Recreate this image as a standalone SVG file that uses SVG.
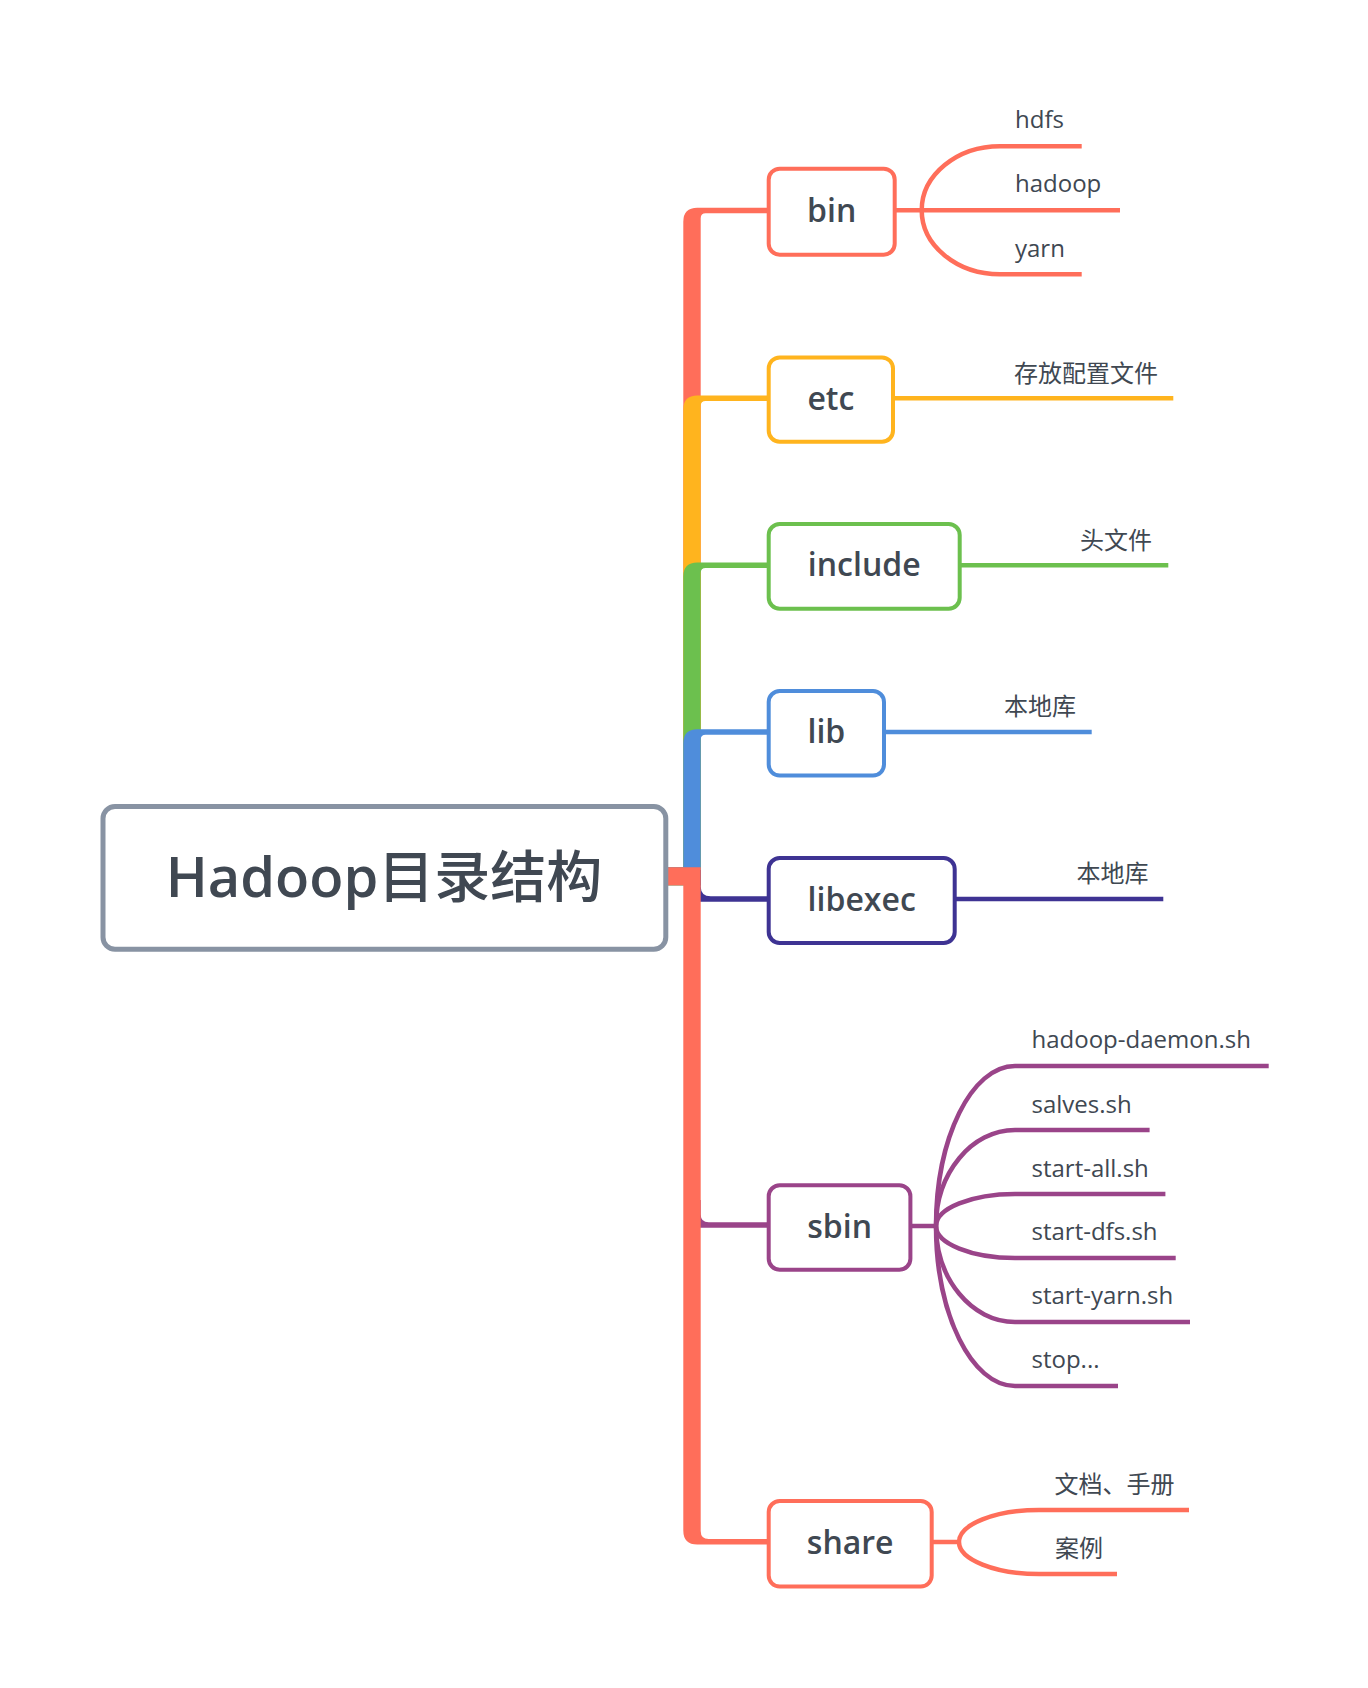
<svg xmlns="http://www.w3.org/2000/svg" width="1368" height="1688" viewBox="0 0 1368 1688">
<style>
.bg{fill:#ffffff}
.node rect{fill:#ffffff;stroke-width:4}
.nt{font-family:"Open Sans","Noto Sans","Noto Sans CJK SC",sans-serif;font-size:32px;font-weight:600;fill:#404852;text-anchor:middle}
.lt{font-family:"Open Sans","Noto Sans","Noto Sans CJK SC",sans-serif;font-size:24px;fill:#404852}
.sub{fill:none;stroke-width:4.5}
.red{fill:#ff6e5a}.sred{stroke:#ff6e5a}
.org{fill:#ffb41e}.sorg{stroke:#ffb41e}
.grn{fill:#6cc04e}.sgrn{stroke:#6cc04e}
.blu{fill:#4f8ddb}.sblu{stroke:#4f8ddb}
.nav{fill:#3e3393}.snav{stroke:#3e3393}
.pur{fill:#9a4489}.spur{stroke:#9a4489}
</style>
<rect class="bg" x="0" y="0" width="1368" height="1688"/>
<g id="connectors">
  <path class="red" d="M665 885.3 H700.7 V218.25 Q700.7 213.25 705.7 213.25 H769 V207.75 H697.3 Q683.3 207.75 683.3 221.75 V867.3 H665 Z"/>
  <path class="org" d="M665 885.3 H700.7 V406.05 Q700.7 401.05 705.7 401.05 H769 V395.55 H697.3 Q683.3 395.55 683.3 409.55 V867.3 H665 Z"/>
  <path class="grn" d="M665 885.3 H700.7 V573.05 Q700.7 568.05 705.7 568.05 H769 V562.55 H697.3 Q683.3 562.55 683.3 576.55 V867.3 H665 Z"/>
  <path class="blu" d="M665 885.3 H700.7 V739.75 Q700.7 734.75 705.7 734.75 H769 V729.25 H697.3 Q683.3 729.25 683.3 743.25 V867.3 H665 Z"/>
  <path class="nav" d="M690 870 H700.7 V886.25 Q700.7 896.25 710.7 896.25 H769 V901.75 H690 Z"/>
  <path class="pur" d="M690 1200 H700.7 V1214.25 Q700.7 1222.25 708.7 1222.25 H769 V1227.75 H690 Z"/>
  <path class="red" d="M665 867.3 H700.7 V1531.05 Q700.7 1539.05 708.7 1539.05 H769 V1544.55 H697.3 Q683.3 1544.55 683.3 1530.55 V885.3 H665 Z"/>

  <path class="sub sred" d="M895 210.2 H1120"/>
  <path class="sub sred" d="M921.7 210.2 C921.7 175.1 956.9 146.3 1000 146.3 H1081.7"/>
  <path class="sub sred" d="M921.7 210.2 C921.7 245.4 956.9 274.2 1000 274.2 H1081.7"/>

  <path class="sub sorg" d="M893 398.3 H1173.3"/>
  <path class="sub sgrn" d="M959.7 565.3 H1168.3"/>
  <path class="sub sblu" d="M884 732 H1091.7"/>
  <path class="sub snav" d="M954.7 899 H1163.3"/>

  <path class="sub spur" d="M910.4 1226 H936"/>
  <path class="sub spur" d="M936 1226 C936 1138 971.6 1066 1015 1066 H1268.7"/>
  <path class="sub spur" d="M936 1226 C936 1173.2 971.6 1130 1015 1130 H1149.6"/>
  <path class="sub spur" d="M936 1226 C936 1208.4 971.6 1194 1015 1194 H1165.4"/>
  <path class="sub spur" d="M936 1226 C936 1243.6 971.6 1258 1015 1258 H1175.7"/>
  <path class="sub spur" d="M936 1226 C936 1278.8 971.6 1322 1015 1322 H1190"/>
  <path class="sub spur" d="M936 1226 C936 1314 971.6 1386 1015 1386 H1118"/>

  <path class="sub sred" d="M931.7 1542 H959"/>
  <path class="sub sred" d="M959 1542 C959 1524.4 995 1510 1039 1510 H1189"/>
  <path class="sub sred" d="M959 1542 C959 1559.6 995 1574 1039 1574 H1117"/>
</g>

<g id="root">
  <rect x="103" y="806.5" width="562.8" height="142.7" rx="12" fill="#ffffff" stroke="#8893a3" stroke-width="5"/>
  <text x="384" y="897" font-family="'Open Sans','Noto Sans','Noto Sans CJK SC',sans-serif" font-size="56" fill="#404852" text-anchor="middle"><tspan font-weight="600">Hadoop</tspan><tspan font-weight="500">目录结构</tspan></text>
</g>

<g id="node-bin" class="node">
  <rect x="768.7" y="168.7" width="126" height="86" rx="11" stroke="#ff6e5a"/>
  <text class="nt" x="831.7" y="221.7">bin</text>
</g>
<g id="node-etc" class="node">
  <rect x="768.7" y="357.4" width="124.3" height="84.3" rx="11" stroke="#ffb41e"/>
  <text class="nt" x="830.9" y="409.5">etc</text>
</g>
<g id="node-include" class="node">
  <rect x="768.7" y="524" width="191" height="84.7" rx="11" stroke="#6cc04e"/>
  <text class="nt" x="864.2" y="576.4">include</text>
</g>
<g id="node-lib" class="node">
  <rect x="768.7" y="691" width="115.3" height="84.6" rx="11" stroke="#4f8ddb"/>
  <text class="nt" x="826.4" y="743.3">lib</text>
</g>
<g id="node-libexec" class="node">
  <rect x="768.7" y="858" width="186" height="85" rx="11" stroke="#3e3393"/>
  <text class="nt" x="861.7" y="910.5">libexec</text>
</g>
<g id="node-sbin" class="node">
  <rect x="768.7" y="1185.3" width="141.7" height="84.4" rx="11" stroke="#9a4489"/>
  <text class="nt" x="839.6" y="1237.5">sbin</text>
</g>
<g id="node-share" class="node">
  <rect x="768.7" y="1501" width="163" height="85.6" rx="11" stroke="#ff6e5a"/>
  <text class="nt" x="850.2" y="1553.8">share</text>
</g>

<g id="labels">
  <text class="lt" x="1015" y="128.3">hdfs</text>
  <text class="lt" x="1015" y="192">hadoop</text>
  <text class="lt" x="1015" y="256.5">yarn</text>
  <text class="lt" x="1014" y="381.5">存放配置文件</text>
  <text class="lt" x="1080" y="548.5">头文件</text>
  <text class="lt" x="1004" y="715">本地库</text>
  <text class="lt" x="1076.5" y="882">本地库</text>
  <text class="lt" x="1031.5" y="1048">hadoop-daemon.sh</text>
  <text class="lt" x="1031.5" y="1112.5">salves.sh</text>
  <text class="lt" x="1031.5" y="1176.5">start-all.sh</text>
  <text class="lt" x="1031.5" y="1240">start-dfs.sh</text>
  <text class="lt" x="1031.5" y="1304">start-yarn.sh</text>
  <text class="lt" x="1031.5" y="1368">stop...</text>
  <text class="lt" x="1054.5" y="1493">文档、手册</text>
  <text class="lt" x="1055" y="1557">案例</text>
</g>
</svg>
